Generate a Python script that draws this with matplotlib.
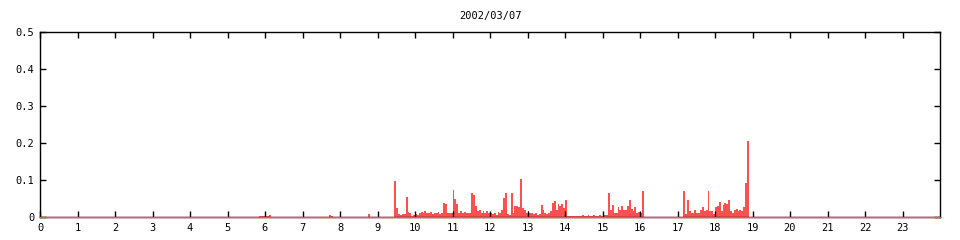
import numpy as np
import matplotlib
matplotlib.use('Agg')
from matplotlib import pyplot as plt

title = '2002/03/07'
bin_h = 0.05   # 3 minute bins, 20 per hour

# values per hour (20 bins each)
h05 = [0, 0, 0, 0, 0, 0, 0, 0, 0, 0, 0, 0, 0, 0, 0, 0, 0, 0.003, 0.003, 0.003]
h06 = [0.003, 0.002, 0.005, 0, 0, 0, 0, 0, 0, 0, 0, 0, 0, 0, 0, 0, 0, 0, 0, 0]
h07 = [0, 0, 0, 0, 0, 0, 0, 0, 0, 0, 0, 0, 0, 0, 0.006, 0.004, 0, 0, 0, 0]
h08 = [0, 0, 0, 0, 0, 0, 0, 0, 0, 0, 0, 0, 0, 0, 0, 0.008, 0, 0, 0, 0]
h09 = [0, 0, 0, 0, 0, 0, 0, 0, 0, 0.097, 0.025, 0.008, 0.006, 0.007, 0.009,
       0.055, 0.013, 0.010, 0.004, 0.006]
h10 = [0.008, 0.006, 0.012, 0.014, 0.010, 0.015, 0.012, 0.010, 0.014, 0.008,
       0.012, 0.010, 0.014, 0.008, 0.012, 0.038, 0.034, 0.012, 0.010, 0.012]
h11 = [0.073, 0.048, 0.035, 0.012, 0.016, 0.010, 0.014, 0.010, 0.012, 0.012,
       0.065, 0.060, 0.030, 0.016, 0.020, 0.012, 0.015, 0.012, 0.017, 0.010]
h12 = [0.012, 0.008, 0.010, 0.006, 0.014, 0.012, 0.020, 0.051, 0.066, 0.008,
       0.006, 0.064, 0.012, 0.030, 0.030, 0.028, 0.103, 0.025, 0.020, 0.012]
h13 = [0.015, 0.010, 0.012, 0.008, 0.010, 0.006, 0.008, 0.033, 0.018, 0.012,
       0.008, 0.010, 0.015, 0.038, 0.042, 0.020, 0.034, 0.030, 0.036, 0.025]
h14 = [0.045, 0.003, 0.002, 0.003, 0.004, 0.003, 0.004, 0.004, 0.003, 0.005,
       0.004, 0.004, 0.005, 0.004, 0.003, 0.005, 0.004, 0.004, 0.005, 0.004]
h15 = [0.004, 0.006, 0.005, 0.066, 0.020, 0.033, 0.010, 0.012, 0.028, 0.020,
       0.030, 0.018, 0.020, 0.030, 0.045, 0.022, 0.016, 0.028, 0.012, 0.013]
h16 = [0.012, 0.070, 0, 0, 0, 0, 0, 0, 0, 0, 0, 0, 0, 0, 0, 0, 0, 0, 0, 0]
h17 = [0, 0, 0, 0.070, 0.008, 0.046, 0.015, 0.012, 0.010, 0.020,
       0.010, 0.012, 0.018, 0.028, 0.015, 0.020, 0.070, 0.016, 0.016, 0.008]
h18 = [0.028, 0.030, 0.041, 0.016, 0.032, 0.037, 0.036, 0.046, 0.016, 0.012,
       0.018, 0.022, 0.016, 0.020, 0.016, 0.028, 0.093, 0.205, 0, 0]

hour_data = {5: h05, 6: h06, 7: h07, 8: h08, 9: h09, 10: h10, 11: h11,
             12: h12, 13: h13, 14: h14, 15: h15, 16: h16, 17: h17, 18: h18}

vals = np.zeros(24 * 20)
for hh, v in hour_data.items():
    vals[hh * 20:(hh + 1) * 20] = v
tstart = np.arange(len(vals)) * bin_h

red = '#ff5050'
fnt = 'DejaVu Sans Mono'

fig = plt.figure(figsize=(9.6, 2.4), dpi=100)
ax = fig.add_axes([40 / 960, 23 / 240, 900 / 960, 185 / 240])
ax.bar(tstart, vals, width=bin_h, align='edge', color=red, linewidth=0,
       antialiased=False)
# red zero line sits over the bottom frame
ax.axhline(0, color=red, linewidth=1, zorder=3, clip_on=False)

ax.set_xlim(0, 24)
ax.set_ylim(0, 0.5)
ax.set_xticks(range(24))
ax.set_xticklabels([str(i) for i in range(24)], fontfamily=fnt, fontsize=7.5)
yt = [0, 0.1, 0.2, 0.3, 0.4, 0.5]
ax.set_yticks(yt)
ax.set_yticklabels(['0', '0.1', '0.2', '0.3', '0.4', '0.5'], fontfamily=fnt, fontsize=7.5)
ax.tick_params(direction='in', length=4, width=1, top=True, right=True, pad=4)
for s in ax.spines.values():
    s.set_linewidth(1)
ax.set_title(title, fontfamily=fnt, fontsize=7.5, pad=9)

plt.savefig('out.png', dpi=100)
